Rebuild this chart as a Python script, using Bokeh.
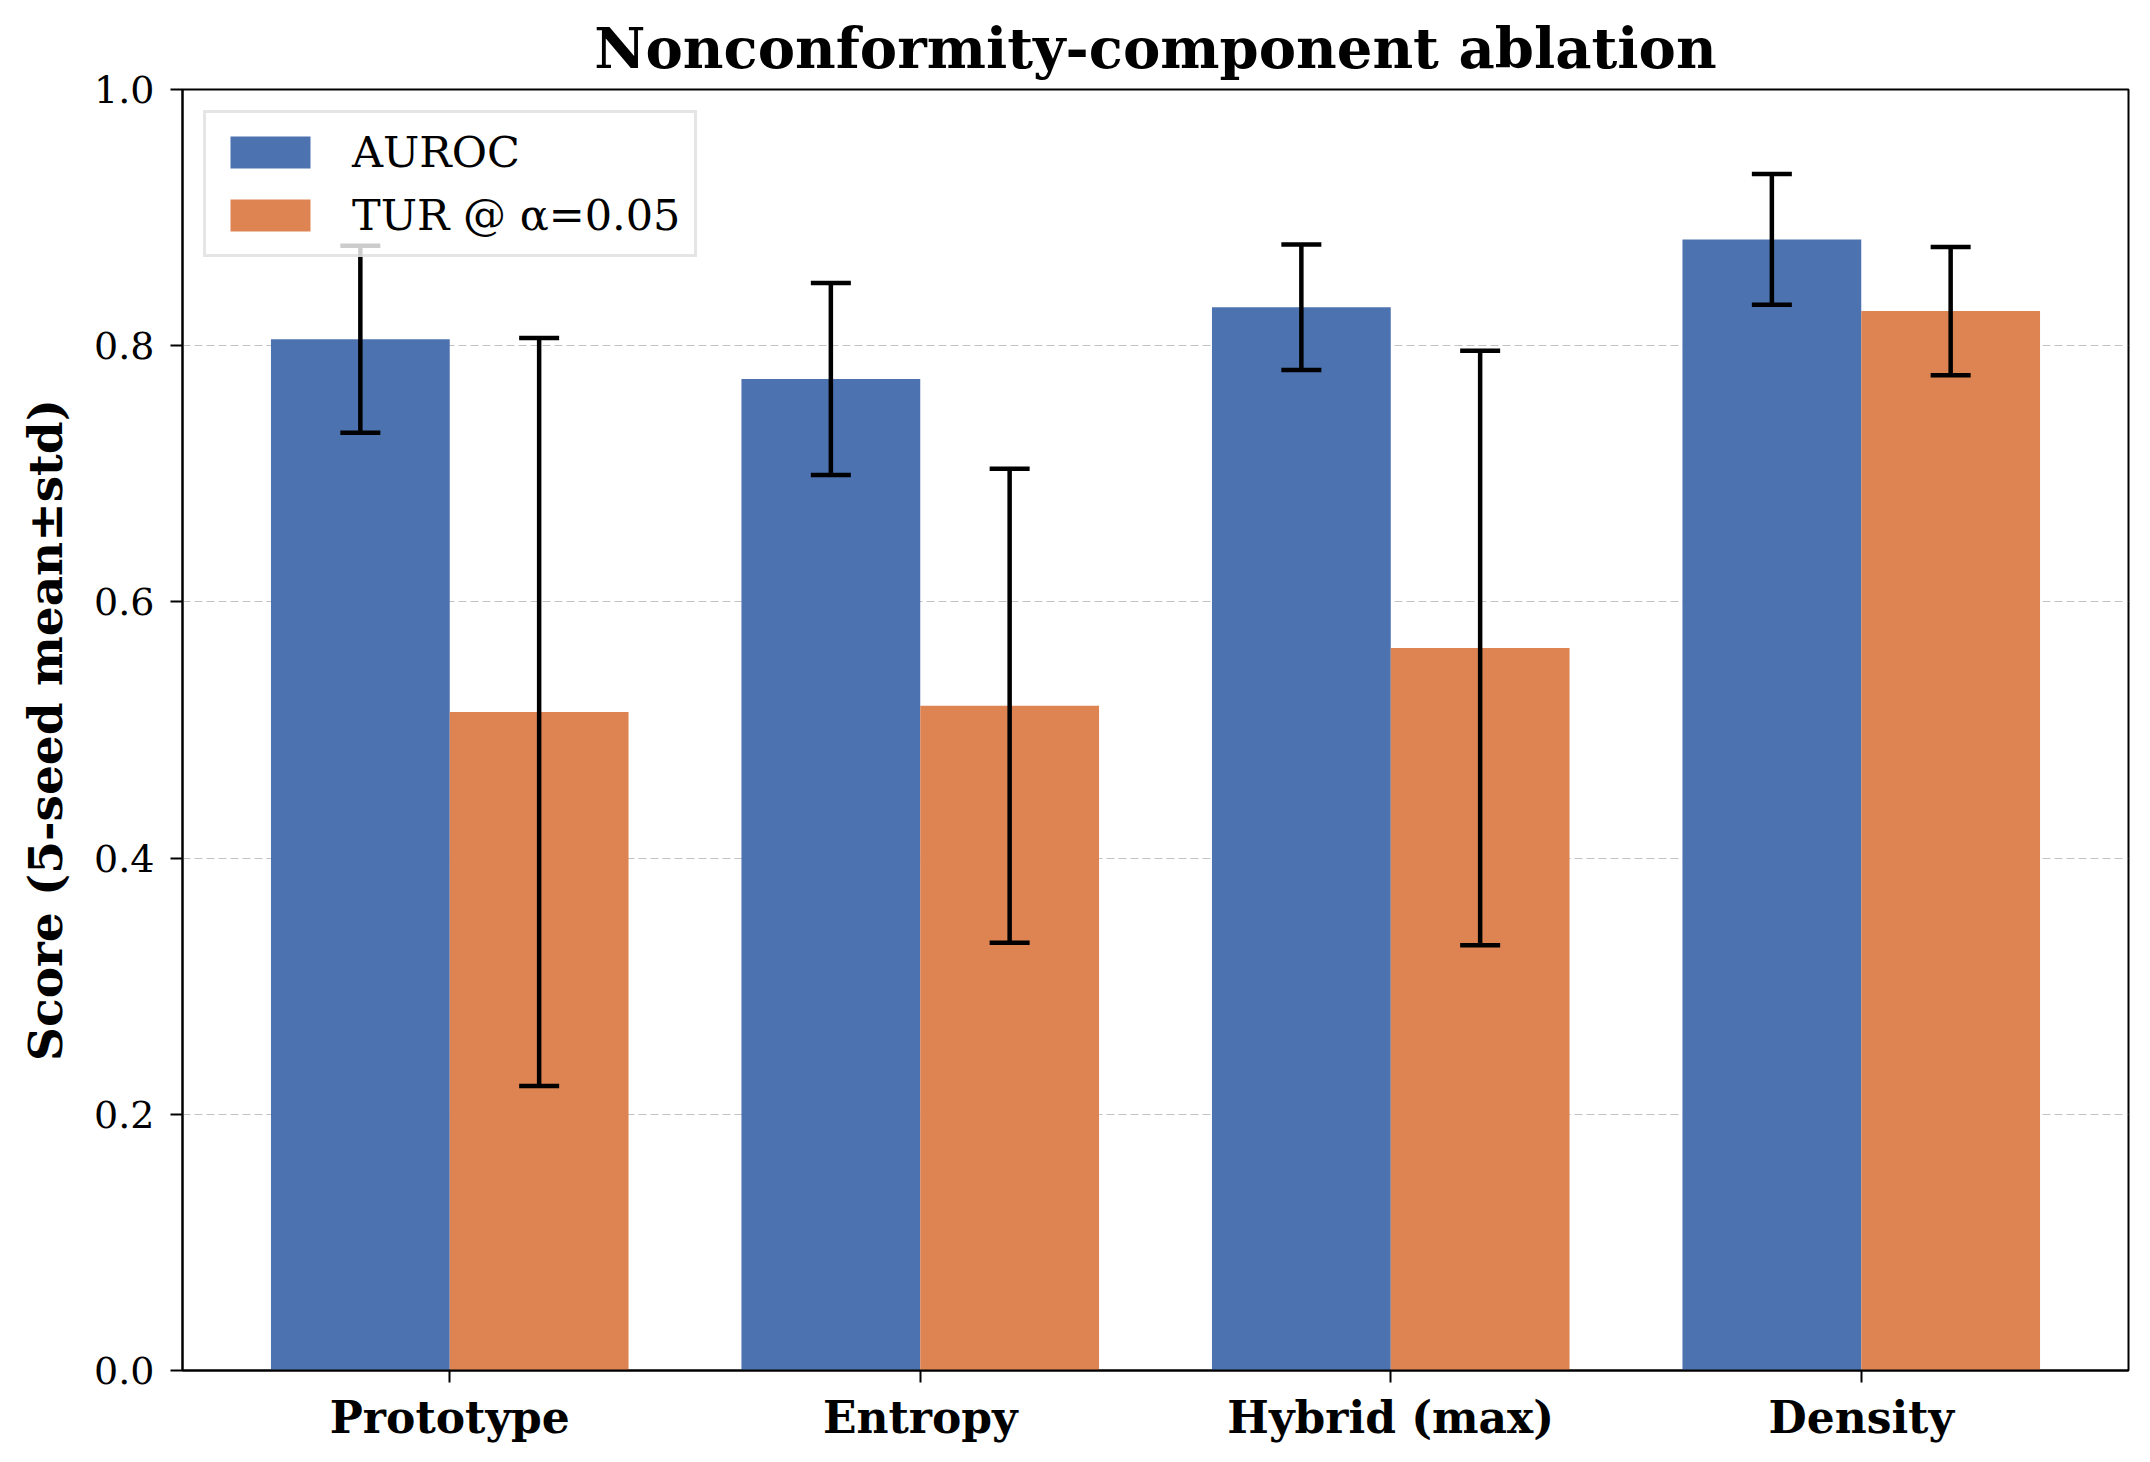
from bokeh.plotting import figure
from bokeh.models import (ColumnDataSource, Whisker, TeeHead, FixedTicker,
                          Legend, LegendItem, Range1d, PrintfTickFormatter)
from bokeh.embed import file_html
from bokeh.resources import INLINE

# Ablation results: 5-seed mean and std per nonconformity component
components = ["Prototype", "Entropy", "Hybrid (max)", "Density"]
auroc_mean = [0.805, 0.774, 0.830, 0.883]
auroc_std = [0.073, 0.075, 0.049, 0.051]
tur_mean = [0.514, 0.519, 0.564, 0.827]
tur_std = [0.292, 0.185, 0.232, 0.050]
series_names = ["AUROC", "TUR @ α=0.05"]
y_ticks = [0.0, 0.2, 0.4, 0.6, 0.8, 1.0]

BLUE = "#4C72B0"
ORANGE = "#DD8452"
FONT = "DejaVu Serif"
bar_w = 0.38

idx = list(range(len(components)))
x_auroc = [i - bar_w / 2 for i in idx]
x_tur = [i + bar_w / 2 for i in idx]

src_a = ColumnDataSource(dict(
    x=x_auroc, top=auroc_mean,
    lo=[m - s for m, s in zip(auroc_mean, auroc_std)],
    hi=[m + s for m, s in zip(auroc_mean, auroc_std)],
))
src_t = ColumnDataSource(dict(
    x=x_tur, top=tur_mean,
    lo=[m - s for m, s in zip(tur_mean, tur_std)],
    hi=[m + s for m, s in zip(tur_mean, tur_std)],
))

p = figure(width=2150, height=1462, output_backend="svg", toolbar_location=None,
           x_range=Range1d(-0.568, 3.568), y_range=Range1d(0, 1.0),
           min_border_left=182, min_border_right=22,
           min_border_top=89, min_border_bottom=92)
p.background_fill_color = "white"
p.border_fill_color = "white"
p.outline_line_color = "black"
p.outline_line_width = 2

# Title
p.title.text = "Nonconformity-component ablation"
p.title.text_font = FONT
p.title.text_font_style = "bold"
p.title.text_font_size = "56px"
p.title.text_color = "black"
p.title.align = "center"
p.title.offset = 0
p.title.standoff = 17

# Bars
r_a = p.vbar(x="x", top="top", width=bar_w, bottom=0, source=src_a,
             fill_color=BLUE, line_color=None)
r_t = p.vbar(x="x", top="top", width=bar_w, bottom=0, source=src_t,
             fill_color=ORANGE, line_color=None)

# Error bars, drawn on top of the bars
for src in (src_a, src_t):
    w = Whisker(base="x", lower="lo", upper="hi", source=src,
                line_color="black", line_width=4.5, level="annotation",
                upper_head=TeeHead(size=40, line_color="black", line_width=4.5),
                lower_head=TeeHead(size=40, line_color="black", line_width=4.5))
    p.add_layout(w)

# Grid
p.xgrid.grid_line_color = None
p.ygrid.ticker = FixedTicker(ticks=y_ticks)
p.ygrid.grid_line_color = "#a8a8a8"
p.ygrid.grid_line_alpha = 0.7
p.ygrid.grid_line_dash = "8 4"
p.ygrid.grid_line_width = 1.2

# X axis
p.xaxis.ticker = FixedTicker(ticks=idx)
p.xaxis.major_label_overrides = {i: c for i, c in zip(idx, components)}
p.xaxis.major_label_text_font = FONT
p.xaxis.major_label_text_font_style = "bold"
p.xaxis.major_label_text_font_size = "44px"
p.xaxis.major_label_standoff = 9

# Y axis
p.yaxis.ticker = FixedTicker(ticks=y_ticks)
p.yaxis.formatter = PrintfTickFormatter(format="%.1f")
p.yaxis.major_label_text_font = FONT
p.yaxis.major_label_text_font_size = "38px"
p.yaxis.major_label_standoff = 16
p.yaxis.axis_label = "Score (5-seed mean±std)"
p.yaxis.axis_label_text_font = FONT
p.yaxis.axis_label_text_font_style = "bold"
p.yaxis.axis_label_text_font_size = "47px"
p.yaxis.axis_label_standoff = 18

for ax in (p.xaxis, p.yaxis):
    ax.axis_line_color = "black"
    ax.axis_line_width = 2
    ax.major_tick_line_color = "black"
    ax.major_tick_line_width = 2
    ax.major_tick_out = 12
    ax.major_tick_in = 0
    ax.minor_tick_line_color = None
    ax.major_label_text_color = "black"
    ax.axis_label_text_color = "black"

# Legend
legend = Legend(items=[LegendItem(label=series_names[0], renderers=[r_a]),
                       LegendItem(label=series_names[1], renderers=[r_t])],
                location="top_left")
legend.margin = 21
legend.padding = 14
legend.spacing = 13
legend.glyph_width = 100
legend.glyph_height = 40
legend.label_standoff = 32
legend.label_text_font = FONT
legend.label_text_font_size = "43px"
legend.label_text_color = "black"
legend.border_line_color = "#cccccc"
legend.border_line_width = 3
legend.background_fill_alpha = 0.8
p.add_layout(legend, "center")

open("out.html", "w").write(file_html(p, INLINE))
